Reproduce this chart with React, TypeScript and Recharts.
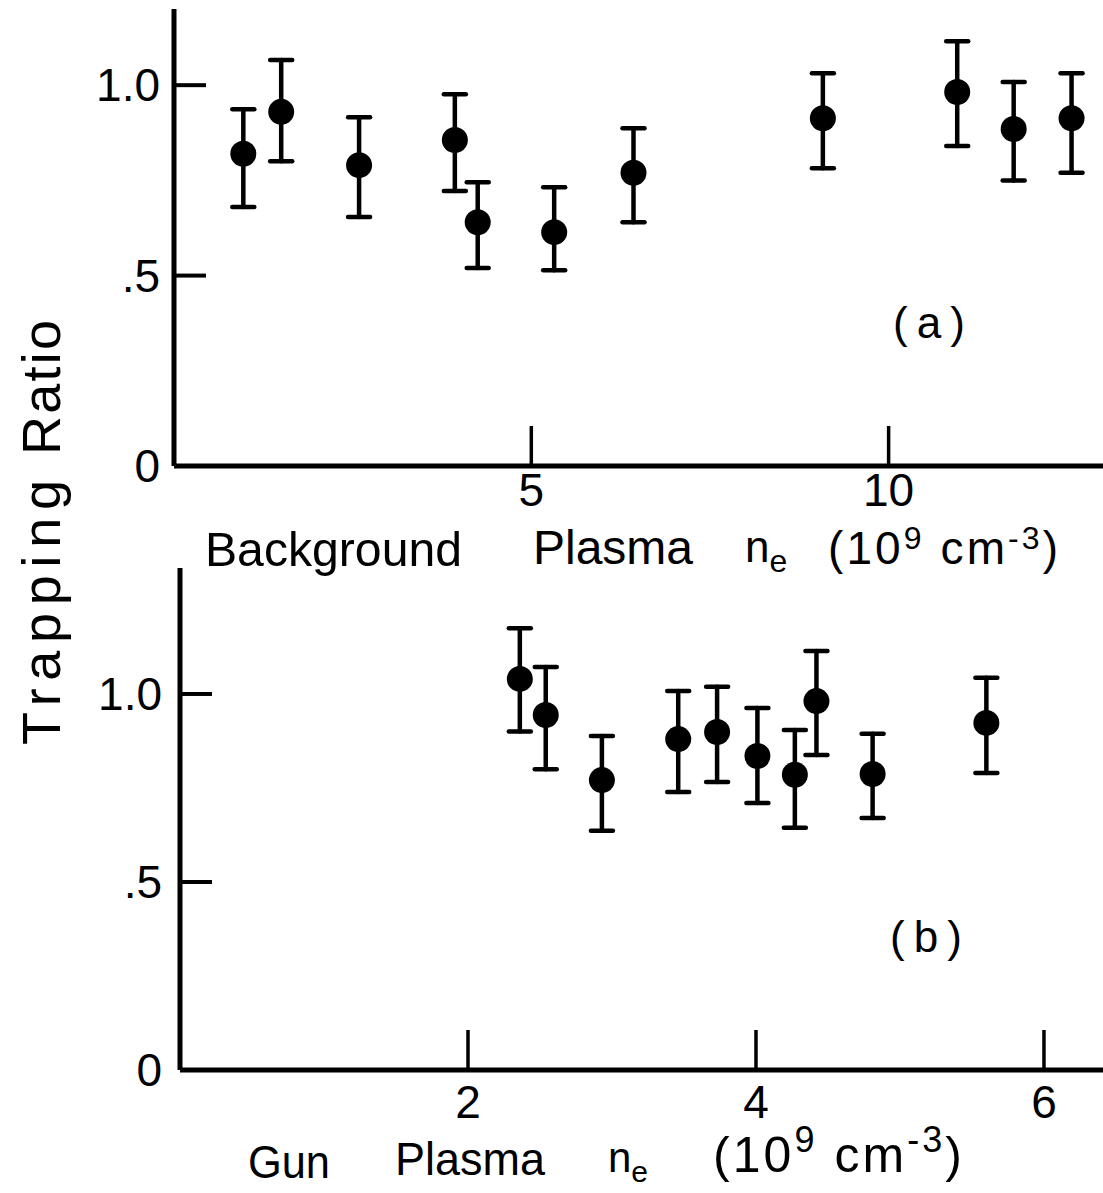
import React from "react";
import { ScatterChart, Scatter, XAxis, YAxis, ErrorBar } from "recharts";

// panel (a): background plasma n_e (10^9 cm^-3)
const bgDensity = [0.97, 1.5, 2.59, 3.93, 4.25, 5.32, 6.43, 9.08, 10.96, 11.75, 12.56];
const bgRatio = [0.82, 0.93, 0.79, 0.856, 0.64, 0.614, 0.77, 0.913, 0.982, 0.885, 0.913];
const bgLow = [0.68, 0.8, 0.654, 0.722, 0.52, 0.514, 0.64, 0.782, 0.84, 0.75, 0.77];
const bgHigh = [0.937, 1.066, 0.916, 0.976, 0.745, 0.732, 0.887, 1.031, 1.115, 1.008, 1.031];

// panel (b): gun plasma n_e (10^9 cm^-3)
const gunDensity = [2.36, 2.54, 2.93, 3.46, 3.73, 4.01, 4.27, 4.42, 4.81, 5.6];
const gunRatio = [1.04, 0.944, 0.771, 0.88, 0.899, 0.835, 0.785, 0.981, 0.787, 0.923];
const gunLow = [0.9, 0.8, 0.636, 0.739, 0.766, 0.71, 0.644, 0.838, 0.67, 0.79];
const gunHigh = [1.175, 1.072, 0.888, 1.008, 1.019, 0.963, 0.904, 1.114, 0.894, 1.043];

const bgXTicks = [5, 10];
const gunXTicks = [2, 4, 6];
const ratioTicks = [0, 0.5, 1];
const ratioTickLabels = ["0", ".5", "1.0"];

const font = "'Liberation Sans', Arial, sans-serif";

const toPoints = (xs: number[], ys: number[], lo: number[], hi: number[]) =>
  xs.map((x, i) => ({ x, y: ys[i], err: [ys[i] - lo[i], hi[i] - ys[i]] }));

const bgPoints = toPoints(bgDensity, bgRatio, bgLow, bgHigh);
const gunPoints = toPoints(gunDensity, gunRatio, gunLow, gunHigh);

function Dot(props: any) {
  return <circle cx={props.cx} cy={props.cy} r={13} fill="#000" />;
}

function makeXTick(len: number, drop: number) {
  return (props: any) => {
    const { x, y, payload } = props;
    return (
      <g>
        <line x1={x} y1={y} x2={x} y2={y - len} stroke="#000" strokeWidth={3.5} />
        <text x={x} y={y + drop} textAnchor="middle" fontSize={46} fontFamily={font} fill="#000">
          {payload.value}
        </text>
      </g>
    );
  };
}

function makeYTick(gap: number) {
  return (props: any) => {
    const { x, y, payload } = props;
    const i = ratioTicks.indexOf(payload.value);
    return (
      <g>
        {payload.value > 0 && <line x1={x} y1={y} x2={x + 32} y2={y} stroke="#000" strokeWidth={4} />}
        <text x={x - gap} y={y + 16} textAnchor="end" fontSize={46} fontFamily={font} fill="#000">
          {ratioTickLabels[i]}
        </text>
      </g>
    );
  };
}

const axisLine = { stroke: "#000", strokeWidth: 5 };

export default function App() {
  return (
    <div style={{ position: "absolute", left: 0, top: 0, width: 1103, height: 1193, background: "#fff", overflow: "hidden" }}>
      <div style={{ position: "absolute", left: 0, top: 0 }}>
        <ScatterChart width={1103} height={600} margin={{ top: 9, right: 0, bottom: 74, left: 0 }}>
          <XAxis type="number" dataKey="x" domain={[0, 13]} ticks={bgXTicks} interval={0} height={60}
            tickSize={0} tickMargin={0} tick={makeXTick(40, 40)} tickLine={false} axisLine={axisLine} allowDataOverflow />
          <YAxis type="number" dataKey="y" domain={[0, 1.2]} ticks={ratioTicks} interval={0} width={174}
            tickSize={0} tickMargin={0} tick={makeYTick(14)} tickLine={false} axisLine={axisLine} allowDataOverflow />
          <Scatter data={bgPoints} shape={<Dot />} isAnimationActive={false}>
            <ErrorBar dataKey="err" direction="y" width={11} stroke="#000" strokeWidth={4.5} strokeLinecap="round" isAnimationActive={false} />
          </Scatter>
        </ScatterChart>
      </div>
      <div style={{ position: "absolute", left: 0, top: 540 }}>
        <ScatterChart width={1103} height={653} margin={{ top: 28, right: 0, bottom: 63, left: 0 }}>
          <XAxis type="number" dataKey="x" domain={[0, 6.41]} ticks={gunXTicks} interval={0} height={60}
            tickSize={0} tickMargin={0} tick={makeXTick(40, 48)} tickLine={false} axisLine={axisLine} allowDataOverflow />
          <YAxis type="number" dataKey="y" domain={[0, 1.335]} ticks={ratioTicks} interval={0} width={180}
            tickSize={0} tickMargin={0} tick={makeYTick(18)} tickLine={false} axisLine={axisLine} allowDataOverflow />
          <Scatter data={gunPoints} shape={<Dot />} isAnimationActive={false}>
            <ErrorBar dataKey="err" direction="y" width={11} stroke="#000" strokeWidth={4.5} strokeLinecap="round" isAnimationActive={false} />
          </Scatter>
        </ScatterChart>
      </div>
      <svg width={1103} height={1193} style={{ position: "absolute", left: 0, top: 0, pointerEvents: "none" }}
        fontFamily={font} fill="#000">
        <text transform="translate(60,745) rotate(-90)" fontSize={54} textLength={265} lengthAdjust="spacing">Trapping</text>
        <text transform="translate(60,455) rotate(-90)" fontSize={54} textLength={135} lengthAdjust="spacing">Ratio</text>

        <text x={893} y={338} fontSize={44} textLength={72} lengthAdjust="spacing">(a)</text>
        <text x={890} y={952} fontSize={44} textLength={72} lengthAdjust="spacing">(b)</text>

        <text x={205} y={566} fontSize={48} textLength={257} lengthAdjust="spacingAndGlyphs">Background</text>
        <text x={533} y={564} fontSize={48} textLength={160} lengthAdjust="spacingAndGlyphs">Plasma</text>
        <text x={745} y={562} fontSize={44}>n<tspan dy={10} fontSize={32}>e</tspan></text>
        <text x={828} y={564} fontSize={46} textLength={230} lengthAdjust="spacing">
          (10<tspan dy={-15} fontSize={32}>9</tspan>
          <tspan dy={15}> cm</tspan>
          <tspan dy={-15} fontSize={32}>-3</tspan>
          <tspan dy={15}>)</tspan>
        </text>

        <text x={248} y={1178} fontSize={46} textLength={82} lengthAdjust="spacingAndGlyphs">Gun</text>
        <text x={395} y={1175} fontSize={46} textLength={150} lengthAdjust="spacingAndGlyphs">Plasma</text>
        <text x={608} y={1172} fontSize={42}>n<tspan dy={10} fontSize={30}>e</tspan></text>
        <text x={713} y={1172} fontSize={50} textLength={249} lengthAdjust="spacing">
          (10<tspan dy={-20} fontSize={36}>9</tspan>
          <tspan dy={20}> cm</tspan>
          <tspan dy={-20} fontSize={36}>-3</tspan>
          <tspan dy={20}>)</tspan>
        </text>
      </svg>
    </div>
  );
}
